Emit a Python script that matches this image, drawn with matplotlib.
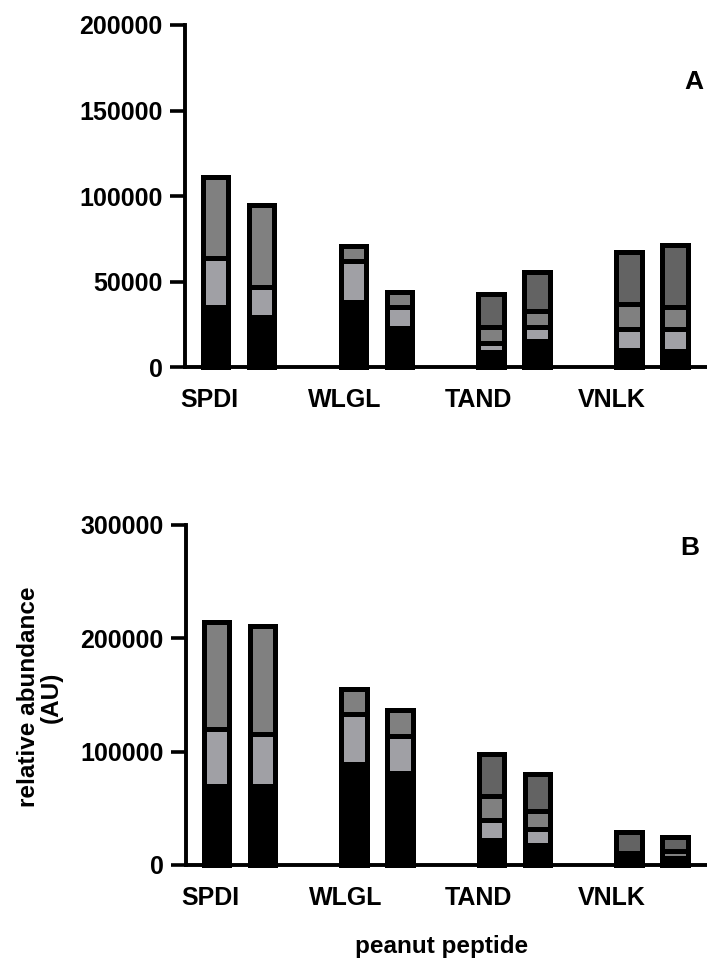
import matplotlib
matplotlib.use("Agg")
import matplotlib.pyplot as plt
import numpy as np

plt.rcParams['font.family'] = ['Liberation Sans', 'DejaVu Sans']
plt.rcParams['font.weight'] = 'bold'

peptides = ["SPDI", "WLGL", "TAND", "VNLK"]

# stacked segment heights, two bars per peptide (bottom -> top)
a_black = [35000, 29000, 38000, 23000, 8500, 15000, 10000, 9500]
a_light = [29000, 18000, 24000, 12000, 5500, 8500, 12000, 13000]
a_mid = [47000, 48000, 9000, 9000, 9500, 9500, 15000, 12500]
a_dark = [0, 0, 0, 0, 19000, 22500, 30000, 36500]

b_black = [70000, 70000, 89000, 81000, 22000, 18000, 4000, 3000]
b_light = [50000, 46000, 44000, 33000, 17500, 14000, 3500, 3000]
b_mid = [94000, 95000, 22000, 23000, 21500, 16000, 3500, 6000]
b_dark = [0, 0, 0, 0, 37000, 32000, 18500, 12500]

a_ticks = [0, 50000, 100000, 150000, 200000]
b_ticks = [0, 100000, 200000, 300000]

colors = ["#000000", "#a0a0a5", "#808080", "#636363"]

W, H = 707, 967
fig = plt.figure(figsize=(W / 100, H / 100), dpi=100)


def draw_panel(ax, segs, ticks):
    x = np.repeat(np.arange(len(peptides)), 2) + np.tile([-0.167, 0.167], len(peptides))
    bottom = np.zeros(len(x))
    for vals, c in zip(segs, colors):
        vals = np.array(vals, dtype=float)
        m = vals > 0
        ax.bar(x[m], vals[m], bottom=bottom[m], width=0.185, color=c,
               edgecolor="black", linewidth=3.6, clip_on=False, zorder=2)
        bottom += vals
    ax.set_xlim(-0.39, 3.40)
    ax.set_ylim(0, ticks[-1])
    ax.set_yticks(ticks)
    ax.set_yticklabels([str(t) for t in ticks])
    ax.set_xticks([-0.21, 0.77, 1.74, 2.71])
    ax.set_xticklabels(peptides)
    ax.tick_params(axis="x", length=0, pad=15, labelsize=18)
    ax.tick_params(axis="y", length=11, width=2.6, pad=5, labelsize=18)
    for s in ["top", "right"]:
        ax.spines[s].set_visible(False)
    for s in ["left", "bottom"]:
        ax.spines[s].set_linewidth(2.8)
        ax.spines[s].set_zorder(3)
    for lab in ax.get_xticklabels() + ax.get_yticklabels():
        lab.set_fontweight("bold")


ax_a = fig.add_axes([185 / W, 1 - 367 / H, (W - 185) / W, (367 - 25) / H])
draw_panel(ax_a, [a_black, a_light, a_mid, a_dark], a_ticks)

ax_b = fig.add_axes([186 / W, 1 - 865 / H, (W - 186) / W, (865 - 525) / H])
draw_panel(ax_b, [b_black, b_light, b_mid, b_dark], b_ticks)

fig.text(694 / W, 1 - 82 / H, "A", fontsize=19, fontweight="bold", ha="center", va="center")
fig.text(690 / W, 1 - 548 / H, "B", fontsize=19, fontweight="bold", ha="center", va="center")

fig.text(40 / W, 1 - 697 / H, "relative abundance\n(AU)", rotation=90, fontsize=17.5,
         fontweight="bold", ha="center", va="center", linespacing=1.0)
fig.text(442 / W, 1 - 946 / H, "peanut peptide", fontsize=17.5, fontweight="bold",
         ha="center", va="center")

fig.savefig("out.png", dpi=100)
